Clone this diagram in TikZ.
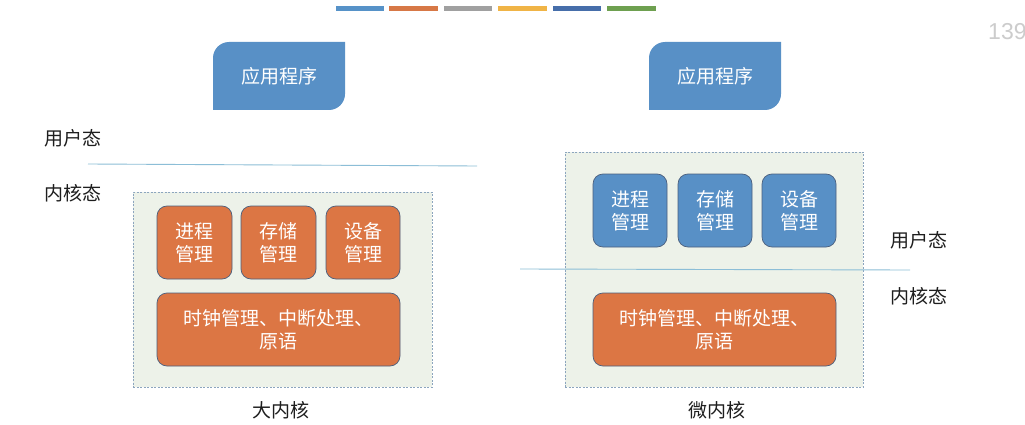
\documentclass[tikz,border=0pt]{standalone}
\usepackage{fontspec}
\setmainfont{Noto Sans CJK SC}
\newfontfamily\numfont{Liberation Sans}
\definecolor{appblue}{RGB}{88,144,198}
\definecolor{kblue}{RGB}{88,144,198}
\definecolor{korange}{RGB}{220,118,68}
\definecolor{kborder}{RGB}{75,95,125}
\definecolor{contfill}{RGB}{237,242,233}
\definecolor{contborder}{RGB}{140,165,190}
\definecolor{sepline}{RGB}{140,190,215}
\definecolor{barA}{RGB}{86,146,200}
\definecolor{barB}{RGB}{215,120,70}
\definecolor{barC}{RGB}{160,160,160}
\definecolor{barD}{RGB}{240,180,70}
\definecolor{barE}{RGB}{70,110,170}
\definecolor{barF}{RGB}{110,160,80}
\definecolor{labeltext}{RGB}{30,30,30}
\begin{document}
\begin{tikzpicture}[x=1pt,y=-1pt,
  cjk/.style={font=\fontsize{19}{23}\selectfont},
  apptext/.style={cjk, text=white, minimum width=132pt, minimum height=68pt, inner sep=0pt},
  kbox/.style={cjk, rounded corners=10pt, draw=kborder, line width=0.7pt, text=white, align=center, minimum height=73pt, inner sep=0pt},
  container/.style={draw=contborder, fill=contfill, line width=0.8pt, dash pattern=on 2pt off 1.5pt, inner sep=0pt},
  statelabel/.style={cjk, text=labeltext, inner sep=0pt},
  sep/.style={draw=sepline, line width=0.9pt}
]
\useasboundingbox (0,0) rectangle (1025,425);
\fill[white] (0,0) rectangle (1025,425);

% colour bars
\fill[barA] (336,6) rectangle (384,11);
\fill[barB] (389,6) rectangle (438,11);
\fill[barC] (444,6) rectangle (492,11);
\fill[barD] (498,6) rectangle (547,11);
\fill[barE] (553,6) rectangle (601,11);
\fill[barF] (607,6) rectangle (656,11);

% page number
\node[anchor=west, inner sep=0pt, text=black!20, font=\numfont\fontsize{23}{25}\selectfont] (pg) at (988,32) {139};

% application boxes (rounded top-left and bottom-right)
\fill[appblue] (213,110) -- (213,58) .. controls (213,49.2) and (220.2,42) .. (229,42) -- (345,42) -- (345,94) .. controls (345,102.8) and (337.8,110) .. (329,110) -- cycle;
\node[apptext] (app1) at (279,76) {应用程序};
\fill[appblue] (649,110) -- (649,58) .. controls (649,49.2) and (656.2,42) .. (665,42) -- (781,42) -- (781,94) .. controls (781,102.8) and (773.8,110) .. (765,110) -- cycle;
\node[apptext] (app2) at (715,76) {应用程序};

% left: monolithic kernel
\coordinate (l1) at (88,164);
\coordinate (l2) at (477,166);
\draw[sep] (l1) -- (l2);
\node[statelabel] (userL) at (73,138) {用户态};
\node[statelabel] (kernL) at (73,193) {内核态};

\node[container, minimum width=299pt, minimum height=195pt] (contL) at (282.5,289.5) {};
\node[kbox, fill=korange, minimum width=75pt] (procL) at (194.5,242.5) {进程\\管理};
\node[kbox, fill=korange, minimum width=75pt] (memL) at (278.5,242.5) {存储\\管理};
\node[kbox, fill=korange, minimum width=74pt] (devL) at (363,242.5) {设备\\管理};
\node[kbox, fill=korange, minimum width=243pt] (baseL) at (278.5,329.5) {时钟管理、中断处理、\\原语};
\node[statelabel] (capL) at (281,410) {大内核};

% right: microkernel
\node[container, minimum width=298pt, minimum height=235pt] (contR) at (714,269.5) {};
\coordinate (r1) at (520,269);
\coordinate (r2) at (910,270);
\draw[sep] (r1) -- (r2);
\node[kbox, fill=kblue, minimum width=74pt] (procR) at (630,210.5) {进程\\管理};
\node[kbox, fill=kblue, minimum width=74pt] (memR) at (715,210.5) {存储\\管理};
\node[kbox, fill=kblue, minimum width=74pt] (devR) at (799,210.5) {设备\\管理};
\node[kbox, fill=korange, minimum width=243pt] (baseR) at (714.5,329.5) {时钟管理、中断处理、\\原语};
\node[statelabel] (userR) at (919,240) {用户态};
\node[statelabel] (kernR) at (919,296) {内核态};
\node[statelabel] (capR) at (717,410) {微内核};
\end{tikzpicture}
\end{document}
